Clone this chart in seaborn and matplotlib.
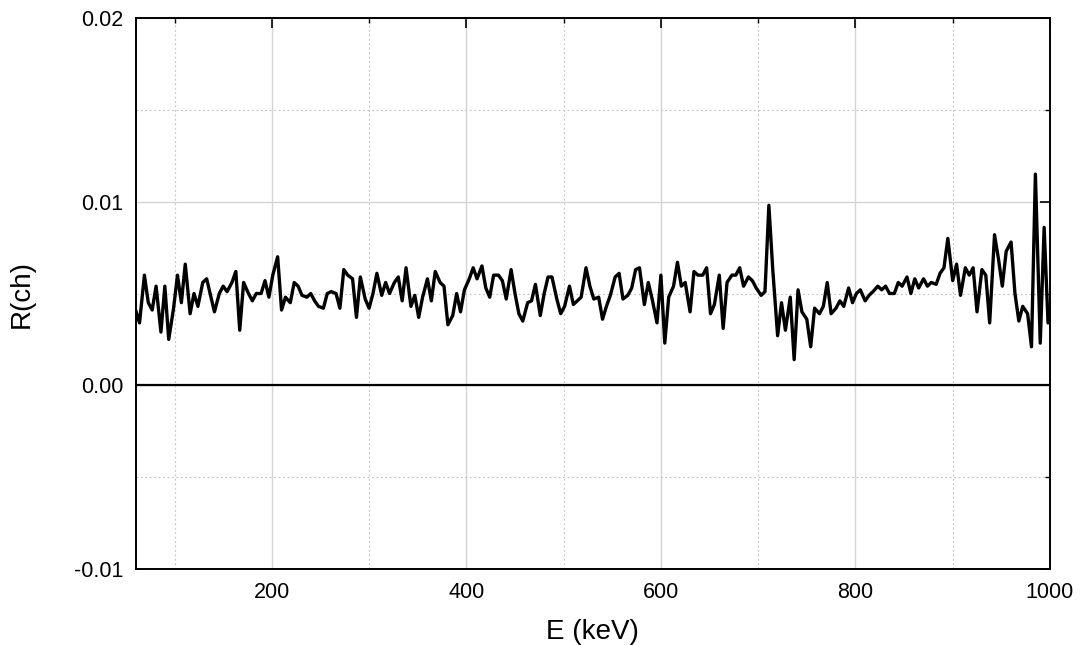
import numpy as np
import pandas as pd
import matplotlib
matplotlib.use("Agg")
import matplotlib.pyplot as plt
from matplotlib.ticker import MultipleLocator, FormatStrFormatter
import seaborn as sns

# channel energies (keV)
energy = [
    60, 64, 69, 73, 77, 81, 86, 90, 94, 99,
    103, 107, 111, 116, 120, 124, 129, 133, 137, 141,
    146, 150, 154, 159, 163, 167, 171, 176, 180, 184,
    189, 193, 197, 201, 206, 210, 214, 219, 223, 227,
    231, 236, 240, 244, 248, 253, 257, 261, 266, 270,
    274, 278, 283, 287, 291, 296, 300, 304, 308, 313,
    317, 321, 326, 330, 334, 338, 343, 347, 351, 355,
    360, 364, 368, 373, 377, 381, 386, 390, 394, 398,
    403, 407, 411, 416, 420, 424, 428, 433, 437, 441,
    446, 450, 454, 458, 463, 467, 471, 476, 480, 484,
    488, 493, 497, 501, 506, 510, 514, 518, 523, 527,
    531, 536, 540, 544, 548, 553, 557, 561, 566, 570,
    574, 578, 583, 587, 591, 596, 600, 604, 608, 613,
    617, 621, 625, 630, 634, 638, 643, 647, 651, 655,
    660, 664, 668, 673, 677, 681, 685, 690, 694, 698,
    703, 707, 711, 715, 720, 724, 728, 733, 737, 741,
    745, 750, 754, 758, 763, 767, 771, 775, 780, 784,
    788, 793, 797, 801, 805, 810, 814, 818, 823, 827,
    831, 835, 840, 844, 848, 853, 857, 861, 865, 870,
    874, 878, 883, 887, 891, 895, 900, 904, 908, 913,
    917, 921, 925, 930, 934, 938, 943, 947, 951, 955,
    960, 964, 968, 972, 977, 981, 985, 990, 994, 998,
]

# R(ch) per channel
r_low = [
    0.0041, 0.0034, 0.0060, 0.0045, 0.0041, 0.0054, 0.0029, 0.0054, 0.0025, 0.0042,
    0.0060, 0.0045, 0.0066, 0.0039, 0.0050, 0.0043, 0.0056, 0.0058, 0.0049, 0.0040,
    0.0050, 0.0054, 0.0051, 0.0056, 0.0062, 0.0030, 0.0056, 0.0050, 0.0046, 0.0050,
    0.0050, 0.0057, 0.0048, 0.0060, 0.0070, 0.0041, 0.0048,
    0.0045, 0.0056, 0.0054, 0.0049, 0.0048, 0.0050, 0.0046, 0.0043, 0.0042, 0.0050,
    0.0051, 0.0050, 0.0042, 0.0063, 0.0060, 0.0058, 0.0037, 0.0059, 0.0047, 0.0042,
    0.0050, 0.0061, 0.0049, 0.0056, 0.0050, 0.0056, 0.0059, 0.0046, 0.0064, 0.0043,
    0.0049, 0.0037, 0.0048, 0.0058, 0.0046, 0.0062, 0.0056,
]
r_mid = [
    0.0054, 0.0033, 0.0038, 0.0050, 0.0040, 0.0052, 0.0058, 0.0064, 0.0058, 0.0065,
    0.0053, 0.0048, 0.0060, 0.0060, 0.0057, 0.0047, 0.0063, 0.0050, 0.0039, 0.0035,
    0.0045, 0.0046, 0.0055, 0.0038, 0.0050, 0.0059, 0.0059, 0.0047, 0.0039, 0.0043,
    0.0054, 0.0044, 0.0046, 0.0048, 0.0064, 0.0054, 0.0047,
    0.0048, 0.0036, 0.0043, 0.0049, 0.0059, 0.0061, 0.0047, 0.0049, 0.0053, 0.0063,
    0.0064, 0.0044, 0.0056, 0.0047, 0.0034, 0.0060, 0.0023, 0.0048, 0.0054, 0.0067,
    0.0054, 0.0056, 0.0040, 0.0062, 0.0060, 0.0060, 0.0064, 0.0039, 0.0044, 0.0060,
    0.0031, 0.0056, 0.0060, 0.0060, 0.0064, 0.0054,
]
r_high = [
    0.0059, 0.0057, 0.0053, 0.0049, 0.0051, 0.0098, 0.0063, 0.0027, 0.0045, 0.0030,
    0.0048, 0.0014, 0.0052, 0.0040, 0.0036, 0.0021, 0.0042, 0.0039, 0.0043, 0.0056,
    0.0039, 0.0042, 0.0046, 0.0043, 0.0053, 0.0045, 0.0050, 0.0052, 0.0046, 0.0049,
    0.0051, 0.0054, 0.0052, 0.0054, 0.0050, 0.0050, 0.0056,
    0.0054, 0.0059, 0.0050, 0.0058, 0.0053, 0.0058, 0.0054, 0.0056, 0.0055, 0.0061,
    0.0064, 0.0080, 0.0057, 0.0066, 0.0049, 0.0064, 0.0060, 0.0064, 0.0040, 0.0063,
    0.0060, 0.0034, 0.0082, 0.0069, 0.0054, 0.0073, 0.0078, 0.0050, 0.0035, 0.0043,
    0.0039, 0.0021, 0.0115, 0.0023, 0.0086, 0.0034,
]

df = pd.DataFrame({"E": energy, "R": r_low + r_mid + r_high})

sns.set_style("white")
plt.rcParams["font.family"] = ["Liberation Sans", "DejaVu Sans"]
plt.rcParams["axes.unicode_minus"] = False
plt.rcParams["text.color"] = "black"
plt.rcParams["axes.labelcolor"] = "black"

fig = plt.figure(figsize=(10.8, 6.45), dpi=100)
ax = fig.add_axes([0.1256, 0.1178, 0.8466, 0.8543])

# grid first so the curve sits on top
ax.set_axisbelow(True)
ax.grid(which="major", color="#d4d4d4", lw=1.0, ls="-")
ax.grid(which="minor", color="#c0c0c0", lw=0.8, ls=(0, (1.5, 2.5)))
ax.axhline(0, color="black", lw=1.6, zorder=2)

sns.lineplot(data=df, x="E", y="R", color="black", lw=2.4, ax=ax, zorder=3)

ax.set_xlim(60, 1000)
ax.set_ylim(-0.01, 0.02)
ax.xaxis.set_major_locator(MultipleLocator(200))
ax.xaxis.set_minor_locator(MultipleLocator(100))
ax.yaxis.set_major_locator(MultipleLocator(0.01))
ax.yaxis.set_minor_locator(MultipleLocator(0.005))
ax.yaxis.set_major_formatter(FormatStrFormatter("%.2f"))

ax.tick_params(which="both", direction="in", top=True, right=True,
               colors="black", labelcolor="black")
ax.tick_params(which="major", length=7, width=1.2, labelsize=15.5)
ax.tick_params(axis="x", which="major", pad=9)
ax.tick_params(axis="y", which="major", pad=9)
ax.tick_params(which="minor", length=3.5, width=1.0)

for s in ax.spines.values():
    s.set_color("black")
    s.set_linewidth(1.4)

ax.set_xlabel("E (keV)", fontsize=20, labelpad=12)
ax.set_ylabel("R(ch)", fontsize=20, labelpad=28)

fig.savefig("out.png", dpi=100)
